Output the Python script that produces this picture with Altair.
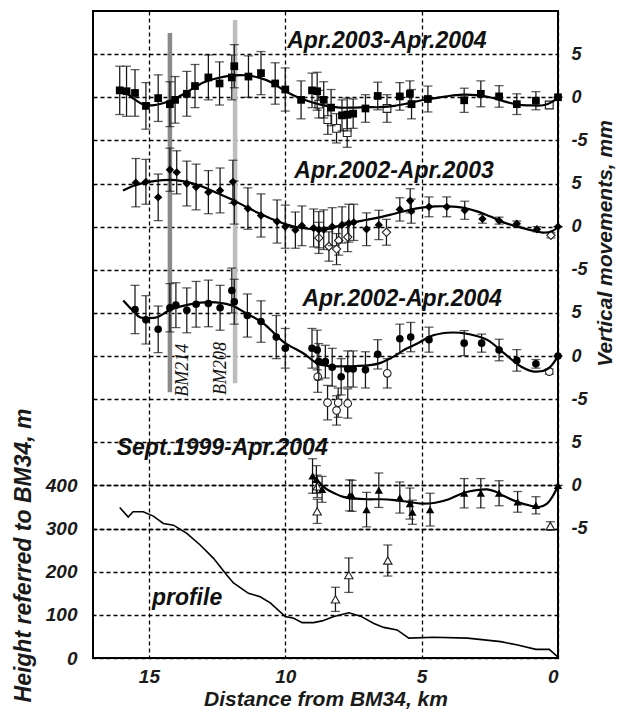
import altair as alt
import pandas as pd

# ---------------- data ----------------
# Panel 1: Apr.2003-Apr.2004 (squares); distance km, movement mm, error mm
p1_km = [16.07, 15.82, 15.51, 15.11, 14.66, 14.23, 14.04, 13.61, 13.31, 12.82, 12.41, 11.96, 11.87, 11.35, 10.89,
         10.37, 10.0, 9.42, 9.02, 8.83, 8.59, 8.32, 7.92, 7.73, 7.51, 7.06, 6.61, 5.80, 5.43, 5.37, 4.77, 3.44,
         2.83, 2.16, 1.51, 0.81, 0.0]
p1_mm = [0.8, 0.7, 0.5, -1.0, -0.1, -0.8, -0.3, 0.4, 1.3, 2.3, 1.6, 2.3, 3.6, 2.4, 2.8, 1.6, 0.9, -0.3, 0.8, 0.7,
         -0.3, -1.2, -2.1, -2.0, -1.9, -1.3, 0.15, 0.1, 0.4, -0.8, -0.2, -0.35, 0.4, 0.1, -0.8, -0.4, 0.0]
p1_err = [2.8, 2.9, 2.7, 2.7, 2.7, 2.6, 2.7, 2.6, 2.5, 2.6, 2.5, 2.6, 2.5, 2.4, 2.5, 2.4, 2.5, 2.2, 2.0, 2.2,
          2.1, 2.1, 1.8, 1.9, 1.7, 1.6, 1.6, 1.6, 1.5, 1.7, 1.5, 1.4, 1.5, 1.25, 1.2, 1.05, 0.0]
p1o_km = [8.77, 8.44, 8.12, 7.73, 6.27, 0.32]
p1o_mm = [-0.8, -2.6, -3.6, -4.1, -1.3, -0.9]
p1o_err = [1.6, 1.7, 1.7, 1.7, 1.6, 0.4]
p1f_km = [16.1, 15.8, 15.5, 15.2, 14.8, 14.4, 14.0, 13.5, 13.0, 12.5, 12.0, 11.5, 11.0, 10.5, 10.0, 9.5, 9.0,
          8.5, 8.0, 7.5, 7.0, 6.5, 6.0, 5.5, 5.0, 4.5, 4.0, 3.5, 3.0, 2.5, 2.0, 1.5, 1.0, 0.5, 0.2, 0.0]
p1f_mm = [0.8, 0.4, -0.3, -0.85, -0.9, -0.6, -0.1, 0.8, 1.7, 2.2, 2.5, 2.55, 2.3, 1.7, 0.7, -0.05, -0.6,
          -1.0, -1.2, -1.2, -1.15, -1.15, -1.0, -0.7, -0.35, -0.1, 0.15, 0.3, 0.25, 0.0, -0.45, -0.85, -0.95,
          -0.9, -0.5, 0.0]

# Panel 2: Apr.2002-Apr.2003 (diamonds)
p2_km = [15.48, 15.11, 14.66, 14.23, 13.98, 13.61, 13.27, 12.82, 12.39, 11.92, 11.87, 11.37, 10.89, 10.30, 10.0,
         9.63, 9.39, 8.96, 8.77, 8.59, 8.28, 7.92, 7.67, 7.49, 7.02, 6.57, 5.80, 5.42, 5.38, 4.73, 4.08, 3.42,
         2.77, 2.16, 1.51, 0.77, 0.0]
p2_mm = [5.1, 5.2, 3.4, 6.6, 6.3, 5.0, 4.6, 4.0, 4.2, 5.2, 2.8, 2.1, 1.3, 0.6, 0.0, -0.4, 0.1, -0.15, -0.35,
         -0.35, 0.0, 0.2, 0.4, 0.5, -0.3, 0.2, 2.0, 3.0, 1.8, 2.3, 2.3, 1.9, 0.9, 0.7, 0.35, -0.3, 0.0]
p2_err = [2.8, 2.6, 2.7, 2.5, 2.5, 2.6, 2.65, 2.5, 2.6, 2.5, 2.5, 2.4, 2.5, 2.5, 2.5, 2.1, 2.3, 2.2, 2.1, 2.3,
          2.2, 2.1, 2.2, 2.1, 1.9, 1.7, 1.35, 1.4, 1.4, 1.15, 1.15, 1.05, 0.5, 0.4, 0.3, 0.3, 0.0]
p2o_km = [8.77, 8.40, 8.12, 8.04, 7.71, 6.29, 0.26]
p2o_mm = [-1.3, -2.3, -2.6, -1.6, -1.2, -0.65, -1.0]
p2o_err = [1.8, 1.7, 1.8, 1.7, 1.7, 1.5, 0.3]
p2f_km = [15.95, 15.5, 15.0, 14.5, 14.0, 13.5, 13.0, 12.5, 12.0, 11.5, 11.0, 10.5, 10.0, 9.5, 9.0, 8.5, 8.0,
          7.5, 7.0, 6.5, 6.0, 5.5, 5.0, 4.5, 4.0, 3.5, 3.0, 2.5, 2.0, 1.5, 1.0, 0.5, 0.2, 0.0]
p2f_mm = [4.2, 4.8, 5.2, 5.4, 5.4, 5.1, 4.6, 3.9, 3.2, 2.4, 1.6, 0.9, 0.3, -0.1, -0.3, -0.3, 0.1, 0.5, 0.8,
          1.1, 1.5, 1.9, 2.2, 2.35, 2.35, 2.2, 1.8, 1.2, 0.5, 0.0, -0.4, -0.7, -0.5, 0.0]

# Panel 3: Apr.2002-Apr.2004 (circles)
p3_km = [15.51, 15.11, 14.66, 14.23, 14.01, 13.61, 13.27, 12.82, 12.39, 11.96, 11.87, 11.39, 10.89, 10.33, 10.0,
         9.02, 8.83, 8.77, 8.53, 8.28, 7.95, 7.71, 7.51, 7.06, 6.61, 5.80, 5.40, 4.73, 3.44, 2.80, 2.16, 1.51,
         0.81, 0.0]
p3_mm = [5.4, 4.2, 3.1, 5.6, 5.9, 5.3, 6.0, 6.1, 5.6, 7.6, 6.3, 4.7, 4.0, 2.2, 0.9, 0.9, 0.7, -0.65, -0.65,
         -1.3, -2.4, -1.5, -1.5, -1.6, 0.2, 2.0, 2.2, 1.9, 1.5, 1.5, 0.7, -0.5, -0.9, 0.0]
p3_err = [2.8, 2.8, 2.7, 2.8, 2.6, 2.6, 2.65, 2.7, 2.6, 2.6, 2.6, 2.5, 2.4, 2.5, 2.3, 2.3, 2.3, 2.1, 1.9, 2.2,
          2.1, 2.1, 2.1, 2.1, 1.7, 1.7, 1.7, 1.45, 1.45, 1.05, 1.25, 1.25, 0.5, 0.0]
p3o_km = [8.81, 8.45, 8.12, 8.06, 7.71, 6.26, 0.32]
p3o_mm = [-2.4, -5.4, -6.3, -5.4, -5.5, -2.0, -1.8]
p3o_err = [1.8, 2.0, 1.7, 1.7, 1.7, 1.7, 0.3]
p3f_km = [15.94, 15.6, 15.33, 15.0, 14.7, 14.2, 13.5, 12.76, 12.0, 11.4, 10.8, 10.07, 9.33, 8.83, 8.4, 7.9,
          7.4, 6.9, 6.56, 6.14, 5.53, 5.16, 4.67, 4.06, 3.6, 3.2, 2.58, 1.97, 1.36, 0.87, 0.38, 0.0]
p3f_mm = [6.45, 5.3, 4.5, 4.4, 4.5, 5.4, 6.0, 6.25, 5.9, 4.9, 3.8, 1.65, 0.3, -0.85, -1.15, -1.2, -1.15,
          -1.05, -0.85, -0.25, 0.9, 1.45, 2.3, 2.7, 2.7, 2.5, 1.85, 0.3, -1.2, -1.8, -1.5, 0.0]

# Panel 4: Sept.1999-Apr.2004 (triangles)
p4_km = [9.00, 8.86, 8.65, 7.64, 7.55, 7.02, 6.57, 5.80, 5.43, 5.34, 4.69, 3.44, 2.83, 2.16, 1.48, 0.81, 0.0]
p4_mm = [1.1, 0.7, -0.45, -1.15, -1.2, -2.8, -0.55, -1.4, -2.1, -3.1, -2.8, -0.9, -0.9, -0.9, -1.9, -2.3, 0.0]
p4_err = [2.0, 1.6, 1.5, 1.8, 1.8, 2.0, 2.0, 1.8, 1.8, 1.4, 1.9, 1.7, 1.7, 1.45, 1.2, 1.0, 0.0]
p4o_km = [8.83, 8.83, 8.16, 7.67, 6.24, 0.28]
p4o_mm = [-0.1, -3.0, -13.2, -10.4, -8.7, -4.7]
p4o_err = [1.3, 1.4, 1.4, 2.0, 1.8, 0.5]
p4f_km = [9.0, 8.8, 8.5, 8.2, 7.9, 7.5, 7.0, 6.5, 6.0, 5.5, 5.0, 4.5, 4.0, 3.5, 3.0, 2.6, 2.3, 2.0, 1.5, 1.0,
          0.7, 0.4, 0.15, 0.0]
p4f_mm = [1.0, 0.5, -0.4, -0.9, -1.3, -1.5, -1.6, -1.6, -1.7, -1.9, -2.1, -2.0, -1.6, -0.9, -0.55, -0.45,
          -0.7, -1.2, -1.9, -2.35, -2.5, -2.1, -1.0, 0.0]

# Topographic profile (height, m)
prof_km = [16.07, 15.76, 15.58, 15.21, 14.84, 14.47, 14.1, 13.61, 13.12, 12.63, 12.14, 11.9, 11.35, 10.92, 10.55,
           10.0, 9.69, 9.38, 8.96, 8.65, 8.22, 7.67, 7.24, 6.75, 6.39, 5.9, 5.47, 4.55, 3.32, 2.1, 1.48, 0.81,
           0.32, 0.0]
prof_m = [349, 327, 339, 339, 329, 312, 308, 289, 262, 231, 192, 174, 150, 142, 128, 96, 92, 82, 82, 86, 96,
          105, 97, 80, 71, 65, 46, 48, 46, 38, 30, 20, 20, 2]

# Benchmarks (km) with vertical extent of the grey bars (m on the height scale)
bm_names = ["BM214", "BM208"]
bm_km = [14.23, 11.84]
bm_lo = [616, 637]
bm_hi = [1449, 1479]
bm_color = ["#8a8a8a", "#bdbdbd"]

# Panel labels: text, anchor km, anchor height (m)
lab_text = ["Apr.2003-Apr.2004", "Apr.2002-Apr.2003", "Apr.2002-Apr.2004", "Sept.1999-Apr.2004", "profile"]
lab_km = [9.93, 9.67, 9.37, 16.18, 14.89]
lab_m = [1430, 1130, 833, 486, 139]

bmlab_km = [13.74, 12.35]
bmlab_m = [667, 671]

# panel zero levels on the common height scale (5 mm == 100 m)
OFFSETS = [1300, 1000, 700, 400]
MM2M = 20.0

# ---------------- scales / helpers ----------------
XS = alt.Scale(domain=[0, 17.05], reverse=True, nice=False, zero=False)
YS = alt.Scale(domain=[0, 1500], nice=False, zero=False)

bottom_axis = alt.Axis(
    orient="bottom",
    values=[0, 5, 10, 15],
    labelPadding=9,
    title="Distance from BM34, km",
    titleY=41, titleBaseline="middle", titleFontSize=21,
    grid=True,
)


def pts(km, mm, err, off):
    return pd.DataFrame({
        "km": km,
        "y": [off + MM2M * v for v in mm],
        "lo": [off + MM2M * (v - e) for v, e in zip(mm, err)],
        "hi": [off + MM2M * (v + e) for v, e in zip(mm, err)],
    })


def curve_df(km, mm, off):
    return pd.DataFrame({"km": km, "y": [off + MM2M * v for v in mm], "idx": list(range(len(km)))})


def X():
    return alt.X("km:Q", scale=XS, axis=bottom_axis)


def Y(f="y"):
    return alt.Y(f + ":Q", scale=YS, axis=None)


ERR_C = "#151515"


def errbars(df):
    base = alt.Chart(df)
    r = base.mark_rule(color=ERR_C, strokeWidth=1.25).encode(x=X(), y=Y("lo"), y2="hi")
    t1 = base.mark_tick(color=ERR_C, orient="horizontal", size=9, thickness=1.25).encode(x=X(), y=Y("lo"))
    t2 = base.mark_tick(color=ERR_C, orient="horizontal", size=9, thickness=1.25).encode(x=X(), y=Y("hi"))
    return [r, t1, t2]


def panel(solid, opened, curve, shape, size, right_axis=None):
    layers = []
    layers += errbars(opened)
    layers.append(alt.Chart(opened).mark_point(shape=shape, size=size, filled=True, fill="white",
                                               stroke="#222", strokeWidth=1.1, opacity=1)
                  .encode(x=X(), y=Y()))
    yenc = Y() if right_axis is None else alt.Y("y:Q", scale=YS, axis=right_axis)
    layers.append(alt.Chart(curve).mark_line(color="black", strokeWidth=2.2, interpolate="catmull-rom")
                  .encode(x=X(), y=yenc, order=alt.Order("idx:Q")))
    layers += errbars(solid)
    layers.append(alt.Chart(solid).mark_point(shape=shape, size=size, filled=True, color="black", opacity=1)
                  .encode(x=X(), y=Y()))
    return layers


right_axis = alt.Axis(
    orient="right",
    values=[300, 400, 500, 600, 700, 800, 900, 1000, 1100, 1200, 1300, 1400],
    labelExpr="'' + ((datum.value % 300) / 20 - 5)",
    labelPadding=13, labelAlign="left", labelFontSize=18,
    title="Vertical movements, mm",
    titleX=47, titleY=232, titleAngle=270, titleAlign="center", titleBaseline="middle",
    titleFontSize=21,
    grid=True,
)

left_axis = alt.Axis(
    orient="left",
    values=[0, 100, 200, 300, 400],
    labelPadding=16, labelFontSize=19,
    title="Height referred to BM34, m",
    titleX=-70, titleY=544, titleAngle=270, titleAlign="center", titleBaseline="middle",
    titleFontSize=23,
    grid=True,
)

# ---------------- layers ----------------
bm_df = pd.DataFrame({"name": bm_names, "km": bm_km, "lo": bm_lo, "hi": bm_hi, "c": bm_color})
bars = alt.Chart(bm_df).mark_rule(strokeWidth=4.5).encode(
    x=X(), y=Y("lo"), y2="hi", color=alt.Color("c:N", scale=None))

prof_df = pd.DataFrame({"km": prof_km, "m": prof_m})
profile = alt.Chart(prof_df).mark_line(color="black", strokeWidth=1.6).encode(
    x=X(),
    y=alt.Y("m:Q", scale=YS, axis=left_axis),
)

layers = [profile, bars]
layers += panel(pts(p1_km, p1_mm, p1_err, OFFSETS[0]), pts(p1o_km, p1o_mm, p1o_err, OFFSETS[0]),
                curve_df(p1f_km, p1f_mm, OFFSETS[0]), "square", 60, right_axis=right_axis)
layers += panel(pts(p2_km, p2_mm, p2_err, OFFSETS[1]), pts(p2o_km, p2o_mm, p2o_err, OFFSETS[1]),
                curve_df(p2f_km, p2f_mm, OFFSETS[1]), "diamond", 70)
layers += panel(pts(p3_km, p3_mm, p3_err, OFFSETS[2]), pts(p3o_km, p3o_mm, p3o_err, OFFSETS[2]),
                curve_df(p3f_km, p3f_mm, OFFSETS[2]), "circle", 58)
layers += panel(pts(p4_km, p4_mm, p4_err, OFFSETS[3]), pts(p4o_km, p4o_mm, p4o_err, OFFSETS[3]),
                curve_df(p4f_km, p4f_mm, OFFSETS[3]), "triangle-up", 70)

lab_df = pd.DataFrame({"t": lab_text, "km": lab_km, "m": lab_m})
labels = alt.Chart(lab_df).mark_text(font="Liberation Sans", fontStyle="italic", fontWeight="bold",
                                     fontSize=23, align="left", baseline="middle", color="#111").encode(
    x=X(), y=Y("m"), text="t:N")

bml_df = pd.DataFrame({"t": bm_names, "km": bmlab_km, "m": bmlab_m})
bmlabels = alt.Chart(bml_df).mark_text(font="Liberation Serif", fontStyle="italic", fontSize=18,
                                       angle=270, align="center", baseline="middle", color="#111").encode(
    x=X(), y=Y("m"), text="t:N")

layers += [labels, bmlabels]

chart = alt.layer(*layers).resolve_axis(y="independent").properties(
    width=465, height=647,
    autosize=alt.AutoSizeParams(type="none"),
    padding={"left": 85, "top": 3, "right": 59, "bottom": 52},
).configure_view(stroke="black", strokeWidth=2).configure_axis(
    labelFont="Liberation Sans", labelFontSize=19, labelFontWeight="bold", labelFontStyle="italic",
    labelColor="#1a1a1a",
    titleFont="Liberation Sans", titleFontSize=23, titleFontWeight="bold", titleFontStyle="italic",
    titleColor="#1a1a1a",
    gridColor="black", gridDash=[4, 3], gridWidth=1.3, gridOpacity=1,
    domain=False, ticks=False, tickSize=0,
)

chart.save("out.html", embed_options={"renderer": "svg", "actions": False})
